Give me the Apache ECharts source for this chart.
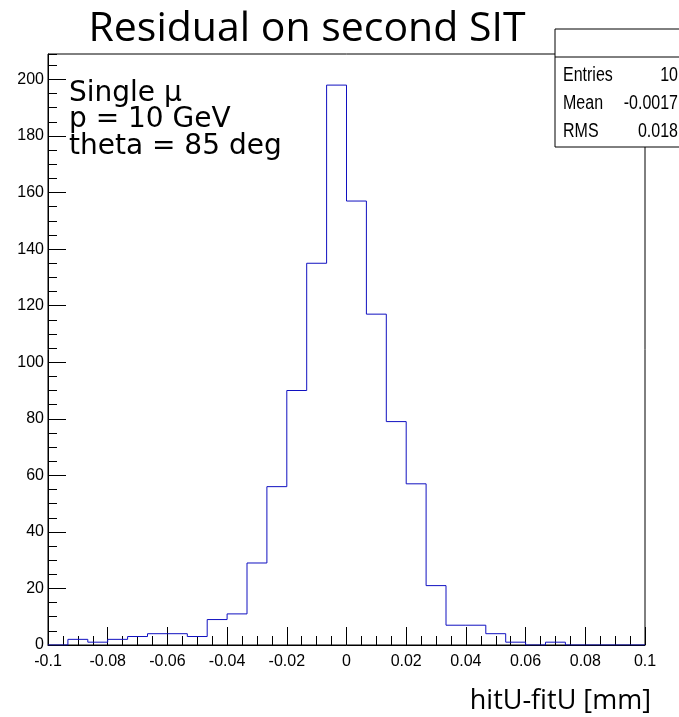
<!DOCTYPE html>
<html>
<head>
<meta charset="utf-8">
<script src="https://cdn.jsdelivr.net/npm/echarts@6/dist/echarts.min.js"></script>
<style>
html,body{margin:0;padding:0;background:#fff;}
#chart{width:679px;height:717px;}
</style>
</head>
<body>
<div id="chart"></div>
<script>
// Histogram definition
const xMin = -0.1;
const xMax = 0.1;
const nBins = 30;
// counts per bin (left to right)
const counts = [0, 2, 1, 2, 3, 4, 4, 3, 9, 11,
                29, 56, 90, 135, 198, 157, 117, 79, 57, 21,
                7, 7, 4, 1, 0, 1, 0, 0, 0, 0];
const yMax = 209;
const statLabels = ['Entries', 'Mean', 'RMS'];
const statValues = ['10', '-0.0017', '0.018'];
const titleText = 'Residual on second SIT';
const noteLines = ['Single μ', 'p = 10 GeV', 'theta = 85 deg'];
const xTitle = 'hitU-fitU [mm]';

const binW = (xMax - xMin) / nBins;
const stepData = counts.map((c, i) => [xMin + i * binW, c]);
stepData.push([xMax, counts[counts.length - 1]]);

const chart = echarts.init(document.getElementById('chart'), null, {renderer: 'canvas'});
const narrowFam = '"Liberation Sans Narrow", "Liberation Sans", Arial, sans-serif';
const tickFont = {fontFamily: narrowFam, fontSize: 16, color: '#000'};
const textFont = '"Open Sans", "Noto Sans", sans-serif';
const noteFont = '"DejaVu Sans", sans-serif';

const gl = 48, gr = 645, gt = 54, gb = 645;

const statsGraphics = [
  {type: 'rect', shape: {x: 555, y: 29, width: 140, height: 118}, style: {fill: '#fff', stroke: '#000', lineWidth: 1}, z: 100},
  {type: 'line', shape: {x1: 555, y1: 57, x2: 695, y2: 57}, style: {stroke: '#000', lineWidth: 1}, z: 101}
];
statLabels.forEach((s, i) => {
  const yy = 75.5 + i * 27.8;
  statsGraphics.push({type: 'text', x: 563, y: yy, scaleX: 0.8, z: 102,
    style: {text: s, fontFamily: narrowFam, fontSize: 20, fill: '#000', align: 'left', verticalAlign: 'middle'}});
  statsGraphics.push({type: 'text', x: 678, y: yy, scaleX: 0.8, z: 102,
    style: {text: statValues[i], fontFamily: narrowFam, fontSize: 20, fill: '#000', align: 'right', verticalAlign: 'middle'}});
});

const option = {
  animation: false,
  backgroundColor: '#fff',
  grid: {left: gl, right: 679 - gr, top: gt, bottom: 717 - gb, show: true, borderColor: '#000', borderWidth: 1, backgroundColor: 'transparent'},
  xAxis: {
    type: 'value', min: xMin, max: xMax, interval: 0.02,
    axisLine: {show: true, onZero: false, lineStyle: {color: '#000', width: 1}},
    axisTick: {show: true, inside: true, length: 18, lineStyle: {color: '#000', width: 1}},
    minorTick: {show: true, splitNumber: 4, length: 9, lineStyle: {color: '#000', width: 1}},
    splitLine: {show: false},
    axisLabel: Object.assign({margin: 9, formatter: v => String(parseFloat(Number(v).toFixed(3)))}, tickFont)
  },
  yAxis: [
    {
      type: 'value', min: 0, max: yMax, interval: 5,
      axisLine: {show: true, onZero: false, lineStyle: {color: '#000', width: 1}},
      axisTick: {show: true, inside: true, length: 9, lineStyle: {color: '#000', width: 1}},
      splitLine: {show: false},
      axisLabel: {show: false}
    },
    {
      type: 'value', min: 0, max: yMax, interval: 20, position: 'left', offset: 0,
      axisLine: {show: false, onZero: false},
      axisTick: {show: true, inside: true, length: 18, lineStyle: {color: '#000', width: 1}},
      splitLine: {show: false},
      axisLabel: Object.assign({margin: 4, showMaxLabel: false,
        formatter: v => (Math.round(v) % 20 === 0 ? String(Math.round(v)) : '')}, tickFont)
    }
  ],
  series: [{
    type: 'line', step: 'end', data: stepData, yAxisIndex: 0,
    symbol: 'none', lineStyle: {color: '#1010c0', width: 1}, clip: true
  }],
  graphic: [
    {type: 'text', x: 307, y: 29.5, style: {text: titleText, fontFamily: textFont, fontSize: 41, fill: '#000', align: 'center', verticalAlign: 'middle'}},
    {type: 'text', x: 69, y: 80, style: {text: noteLines.join('\n'), fontFamily: noteFont, fontSize: 28, lineHeight: 26.5, fill: '#000', align: 'left', verticalAlign: 'top'}},
    {type: 'text', x: 651, y: 701, style: {text: xTitle, fontFamily: textFont, fontSize: 27, fill: '#000', align: 'right', verticalAlign: 'middle'}}
  ].concat(statsGraphics)
};
chart.setOption(option);
</script>
</body>
</html>
